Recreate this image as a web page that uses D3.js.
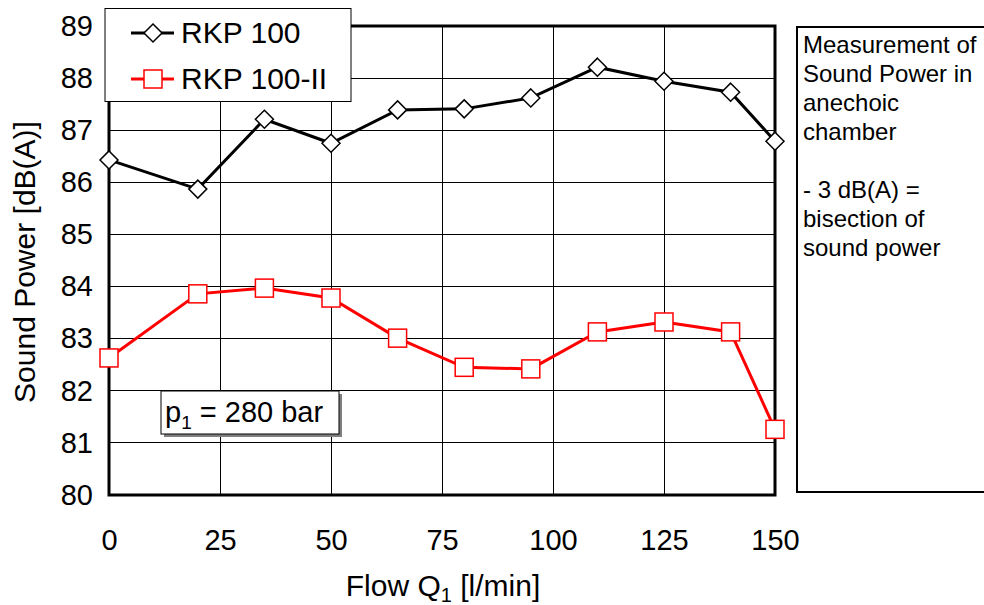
<!DOCTYPE html>
<html>
<head>
<meta charset="utf-8">
<script src="https://cdn.jsdelivr.net/npm/d3@7/dist/d3.min.js"></script>
<style>
  html, body { margin: 0; padding: 0; background: #fff; }
  svg { display: block; font-family: Arial, "Liberation Sans", sans-serif; }
</style>
</head>
<body>
<svg id="chart" width="984" height="605"></svg>
<script>
// ---- data ----
const flows = [0, 20, 35, 50, 65, 80, 95, 110, 125, 140, 150];
const rkp100 = [86.43, 85.87, 87.21, 86.75, 87.39, 87.41, 87.62, 88.21, 87.94, 87.73, 86.79];
const rkp100II = [82.63, 83.86, 83.97, 83.78, 83.01, 82.45, 82.42, 83.13, 83.32, 83.13, 81.26];
const xTicks = [0, 25, 50, 75, 100, 125, 150];
const yTicks = [80, 81, 82, 83, 84, 85, 86, 87, 88, 89];
const seriesNames = ["RKP 100", "RKP 100-II"];
const noteLines = ["Measurement of", "Sound Power in", "anechoic", "chamber", "", "- 3 dB(A) =", "bisection of", "sound power"];

const svg = d3.select("#chart");
const x = d3.scaleLinear().domain([0, 150]).range([109, 775]);
const y = d3.scaleLinear().domain([80, 89]).range([495, 26]);

// gridlines
const grid = svg.append("g");
grid.selectAll("line.h").data(yTicks.slice(1, -1)).join("line")
  .attr("x1", x(0)).attr("x2", x(150))
  .attr("y1", d => y(d)).attr("y2", d => y(d))
  .attr("stroke", "#000").attr("stroke-width", 1).attr("shape-rendering", "crispEdges");
grid.selectAll("line.v").data(xTicks.slice(1, -1)).join("line")
  .attr("y1", y(80)).attr("y2", y(89))
  .attr("x1", d => x(d)).attr("x2", d => x(d))
  .attr("stroke", "#000").attr("stroke-width", 1).attr("shape-rendering", "crispEdges");

// plot border
svg.append("rect").attr("x", x(0)).attr("y", y(89))
  .attr("width", x(150) - x(0)).attr("height", y(80) - y(89))
  .attr("fill", "none").attr("stroke", "#000").attr("stroke-width", 3);

// axes (labels only)
const yAxis = d3.axisLeft(y).tickValues(yTicks).tickSize(0).tickPadding(16);
svg.append("g").attr("transform", `translate(${x(0)},0)`).call(yAxis)
  .call(g => g.select(".domain").remove())
  .selectAll("text").attr("font-size", 29).attr("fill", "#000")
  .attr("font-family", "Arial, 'Liberation Sans', sans-serif");
const xAxis = d3.axisBottom(x).tickValues(xTicks).tickSize(0).tickPadding(34);
svg.append("g").attr("transform", `translate(0,${y(80)})`).call(xAxis)
  .call(g => g.select(".domain").remove())
  .selectAll("text").attr("font-size", 29).attr("fill", "#000")
  .attr("font-family", "Arial, 'Liberation Sans', sans-serif");

// axis titles
const xt = svg.append("text").attr("x", 443).attr("y", 596).attr("text-anchor", "middle")
  .attr("font-size", 30);
xt.append("tspan").text("Flow Q");
xt.append("tspan").text("1").attr("font-size", 20).attr("dy", 6);
xt.append("tspan").text(" [l/min]").attr("dy", -6);

svg.append("text").attr("transform", "translate(35,262) rotate(-90)")
  .attr("text-anchor", "middle").attr("font-size", 30).text("Sound Power [dB(A)]");

// series
const line = d3.line().x((d, i) => x(flows[i])).y(d => y(d));
svg.append("path").datum(rkp100).attr("d", line)
  .attr("fill", "none").attr("stroke", "#000").attr("stroke-width", 3);
svg.append("path").datum(rkp100II).attr("d", line)
  .attr("fill", "none").attr("stroke", "#ff0000").attr("stroke-width", 3);

const diamond = "M0,-9L9,0L0,9L-9,0Z";
svg.append("g").selectAll("path").data(rkp100).join("path")
  .attr("d", diamond)
  .attr("transform", (d, i) => `translate(${x(flows[i])},${y(d)})`)
  .attr("fill", "#fff").attr("stroke", "#000").attr("stroke-width", 1.5);
svg.append("g").selectAll("rect").data(rkp100II).join("rect")
  .attr("x", (d, i) => x(flows[i]) - 9).attr("y", d => y(d) - 9)
  .attr("width", 18).attr("height", 18)
  .attr("fill", "#fff").attr("stroke", "#ff0000").attr("stroke-width", 1.5);

// legend
const lg = svg.append("g");
lg.append("rect").attr("x", 105).attr("y", 8.5).attr("width", 246).attr("height", 93)
  .attr("fill", "#fff").attr("stroke", "#000").attr("stroke-width", 1);
const lgRows = [33, 79];
lg.append("line").attr("x1", 131).attr("x2", 174).attr("y1", lgRows[0]).attr("y2", lgRows[0])
  .attr("stroke", "#000").attr("stroke-width", 3);
lg.append("path").attr("d", diamond).attr("transform", `translate(153,${lgRows[0]})`)
  .attr("fill", "#fff").attr("stroke", "#000").attr("stroke-width", 1.5);
lg.append("line").attr("x1", 131).attr("x2", 174).attr("y1", lgRows[1]).attr("y2", lgRows[1])
  .attr("stroke", "#ff0000").attr("stroke-width", 3);
lg.append("rect").attr("x", 144).attr("y", lgRows[1] - 9).attr("width", 18).attr("height", 18)
  .attr("fill", "#fff").attr("stroke", "#ff0000").attr("stroke-width", 1.5);
lg.selectAll("text").data(seriesNames).join("text")
  .attr("x", 181).attr("y", (d, i) => lgRows[i] + 10)
  .attr("font-size", 30).text(d => d);

// p1 annotation
svg.append("rect").attr("x", 164).attr("y", 394).attr("width", 178).attr("height", 43).attr("fill", "#808080");
svg.append("rect").attr("x", 161).attr("y", 391).attr("width", 178).attr("height", 43)
  .attr("fill", "#fff").attr("stroke", "#000").attr("stroke-width", 1);
const pt = svg.append("text").attr("x", 165).attr("y", 422).attr("font-size", 29);
pt.append("tspan").text("p");
pt.append("tspan").text("1").attr("font-size", 19).attr("dy", 7);
pt.append("tspan").text(" = 280 bar").attr("dy", -7);

// note box
svg.append("rect").attr("x", 797).attr("y", 27).attr("width", 220).attr("height", 465)
  .attr("fill", "#fff").attr("stroke", "#000").attr("stroke-width", 2);
svg.append("g").selectAll("text").data(noteLines).join("text")
  .attr("x", 803).attr("y", (d, i) => 53 + i * 29)
  .attr("font-size", 24).text(d => d);
</script>
</body>
</html>
